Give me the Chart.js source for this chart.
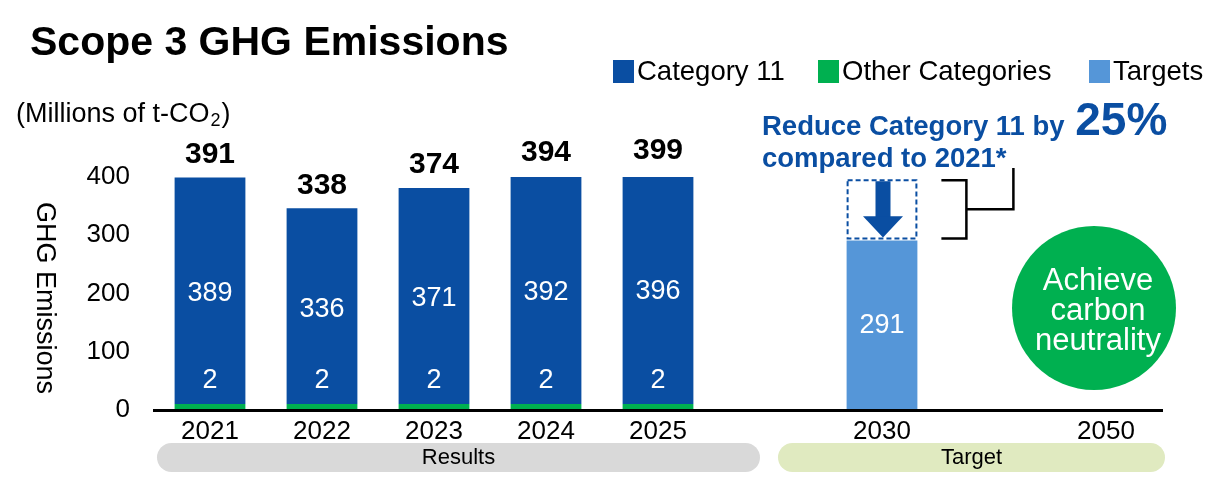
<!DOCTYPE html>
<html>
<head>
<meta charset="utf-8">
<script src="https://cdn.jsdelivr.net/npm/chart.js@4.4.0/dist/chart.umd.min.js"></script>
<style>
  html, body { margin: 0; padding: 0; background: #fff; }
  #wrap { width: 1220px; height: 490px; }
</style>
</head>
<body>
<div id="wrap"><canvas id="ghgChart"></canvas></div>
<script>
// data
const years = ["2021", "2022", "2023", "2024", "2025", "", "2030", "", "2050"];
const category11 = [389, 336, 371, 392, 396, null, null, null, null];
const otherCategories = [2, 2, 2, 2, 2, null, null, null, null];
const totals = [391, 338, 374, 394, 399, null, null, null, null];
const targets = [null, null, null, null, null, null, 291, null, null];
const yTicks = [0, 100, 200, 300, 400];

const DARK_BLUE = "#0a4ea2";
const GREEN = "#00b050";
const LIGHT_BLUE = "#5596d8";
const FONT = "'Liberation Sans', Arial, sans-serif";

function roundRect(ctx, x, y, w, h, r) {
  ctx.beginPath();
  ctx.moveTo(x + r, y);
  ctx.lineTo(x + w - r, y);
  ctx.arc(x + w - r, y + r, r, -Math.PI / 2, Math.PI / 2);
  ctx.lineTo(x + r, y + h);
  ctx.arc(x + r, y + r, r, Math.PI / 2, Math.PI * 1.5);
  ctx.closePath();
}

// everything that is not a bar: titles, legend, labels, notes
const decorations = {
  id: "decorations",
  afterDraw(chart) {
    const ctx = chart.ctx;
    const xs = chart.scales.x, ys = chart.scales.y;
    const area = chart.chartArea;
    const zeroY = ys.getPixelForValue(0);
    ctx.save();

    // title + unit
    ctx.fillStyle = "#000";
    ctx.textAlign = "left";
    ctx.textBaseline = "alphabetic";
    ctx.font = "bold 41px " + FONT;
    ctx.fillText("Scope 3 GHG Emissions", 30, 55);
    ctx.font = "27px " + FONT;
    let ux = 16;
    ctx.fillText("(Millions of t-CO", ux, 122);
    ux += ctx.measureText("(Millions of t-CO").width;
    ctx.font = "18px " + FONT;
    ctx.fillText("2", ux + 1, 126);
    ux += ctx.measureText("2").width + 2;
    ctx.font = "27px " + FONT;
    ctx.fillText(")", ux, 122);

    // legend
    const legendOrder = [1, 0, 2];
    const legendX = [613, 818, 1089];
    ctx.font = "27.5px " + FONT;
    ctx.textBaseline = "middle";
    legendOrder.forEach((d, k) => {
      const ds = chart.data.datasets[d];
      ctx.fillStyle = ds.backgroundColor;
      ctx.fillRect(legendX[k], 60, 21, 23);
      ctx.fillStyle = "#000";
      ctx.fillText(ds.label, legendX[k] + 24, 72);
    });

    // y axis title, reads top to bottom
    ctx.save();
    ctx.translate(44, 298);
    ctx.rotate(Math.PI / 2);
    ctx.textAlign = "center";
    ctx.font = "27px " + FONT;
    ctx.fillText("GHG Emissions", 0, 0);
    ctx.restore();

    // value labels on result bars
    const blueMeta = chart.getDatasetMeta(1);
    ctx.textAlign = "center";
    ctx.textBaseline = "middle";
    category11.forEach((v, i) => {
      if (v == null) return;
      const bar = blueMeta.data[i];
      ctx.fillStyle = "#fff";
      ctx.font = "27px " + FONT;
      ctx.fillText(String(v), bar.x, (bar.y + zeroY) / 2);
      ctx.fillText(String(otherCategories[i]), bar.x, zeroY - 29);
      ctx.fillStyle = "#000";
      ctx.font = "bold 30px " + FONT;
      ctx.fillText(String(totals[i]), bar.x, bar.y - 23);
    });

    // target bar, dashed box and arrow
    const tMeta = chart.getDatasetMeta(2);
    const ti = targets.findIndex(v => v != null);
    const tBar = tMeta.data[ti];
    ctx.fillStyle = "#fff";
    ctx.font = "27px " + FONT;
    ctx.fillText(String(targets[ti]), tBar.x, (tBar.y + zeroY) / 2);

    const bx0 = tBar.x - tBar.width / 2, bx1 = tBar.x + tBar.width / 2;
    const by0 = ys.getPixelForValue(totals[0]) - 2, by1 = tBar.y - 2;
    ctx.strokeStyle = DARK_BLUE;
    ctx.lineWidth = 2;
    ctx.setLineDash([5, 3]);
    ctx.strokeRect(bx0 + 1, by0, bx1 - bx0 - 2, by1 - by0);
    ctx.setLineDash([]);
    ctx.fillStyle = DARK_BLUE;
    const ax = tBar.x + 1;
    ctx.fillRect(ax - 7.5, by0 + 1, 15, 36);
    ctx.beginPath();
    ctx.moveTo(ax - 20, by0 + 36);
    ctx.lineTo(ax + 20, by0 + 36);
    ctx.lineTo(ax, by1 - 1);
    ctx.closePath();
    ctx.fill();

    // bracket
    const kx0 = bx1 + 24, kx1 = bx1 + 49, kx2 = bx1 + 96;
    const kmid = (by0 + by1) / 2;
    ctx.strokeStyle = "#000";
    ctx.lineWidth = 2.5;
    ctx.beginPath();
    ctx.moveTo(kx0, by0);
    ctx.lineTo(kx1, by0);
    ctx.lineTo(kx1, by1);
    ctx.lineTo(kx0, by1);
    ctx.moveTo(kx1, kmid);
    ctx.lineTo(kx2, kmid);
    ctx.lineTo(kx2, 168);
    ctx.stroke();

    // note text
    ctx.textAlign = "left";
    ctx.textBaseline = "alphabetic";
    ctx.fillStyle = DARK_BLUE;
    ctx.font = "bold 27.5px " + FONT;
    const line1 = "Reduce Category 11 by ";
    ctx.fillText(line1, 762, 135);
    const w1 = ctx.measureText(line1).width;
    ctx.font = "bold 46px " + FONT;
    ctx.fillText("25%", 765 + w1, 135);
    ctx.font = "bold 27.5px " + FONT;
    ctx.fillText("compared to 2021*", 762, 167);

    // 2050 circle
    const cx = xs.getPixelForValue(8) - 12, cy = 308;
    ctx.fillStyle = GREEN;
    ctx.beginPath();
    ctx.arc(cx, cy, 82, 0, Math.PI * 2);
    ctx.fill();
    ctx.fillStyle = "#fff";
    ctx.textAlign = "center";
    ctx.textBaseline = "middle";
    ctx.font = "31px " + FONT;
    ["Achieve", "carbon", "neutrality"].forEach((t, k) => {
      ctx.fillText(t, cx + 4, 281 + k * 30);
    });

    // group pills under the axis
    const split = xs.getPixelForValue(5);
    ctx.fillStyle = "#d9d9d9";
    roundRect(ctx, area.left + 3, 443, split - 10 - area.left - 3, 29, 14.5);
    ctx.fill();
    ctx.fillStyle = "#e0eac0";
    roundRect(ctx, split + 8, 443, area.right + 3 - split - 8, 29, 14.5);
    ctx.fill();
    ctx.fillStyle = "#000";
    ctx.font = "22px " + FONT;
    ctx.fillText("Results", (area.left + split - 7) / 2, 458);
    ctx.fillText("Target", (split + 8 + area.right + 3) / 2, 458);

    ctx.restore();
  }
};

new Chart(document.getElementById("ghgChart"), {
  type: "bar",
  data: {
    labels: years,
    datasets: [
      {
        label: "Other Categories",
        data: otherCategories,
        backgroundColor: GREEN,
        minBarLength: 6
      },
      {
        label: "Category 11",
        data: category11,
        backgroundColor: DARK_BLUE
      },
      {
        label: "Targets",
        data: targets,
        backgroundColor: LIGHT_BLUE
      }
    ]
  },
  options: {
    responsive: true,
    maintainAspectRatio: false,
    animation: false,
    events: [],
    layout: { padding: { left: 0, right: 58, top: 177, bottom: 0 } },
    datasets: { bar: { categoryPercentage: 0.632, barPercentage: 1, borderWidth: 0 } },
    plugins: { legend: { display: false }, title: { display: false }, tooltip: { enabled: false } },
    scales: {
      x: {
        stacked: true,
        grid: { display: false, drawTicks: false },
        border: { display: true, color: "#000", width: 3, z: 1 },
        ticks: { color: "#000", font: { family: FONT, size: 26 }, padding: 6, autoSkip: false, maxRotation: 0 },
        afterFit(scale) { scale.height = 80; }
      },
      y: {
        stacked: true,
        min: 0,
        max: 400,
        grid: { display: false, drawTicks: false },
        border: { display: false },
        ticks: { color: "#000", font: { family: FONT, size: 26 }, padding: 24 },
        afterBuildTicks(scale) { scale.ticks = yTicks.map(v => ({ value: v })); },
        afterFit(scale) { scale.width = 154; }
      }
    }
  },
  plugins: [decorations]
});
</script>
</body>
</html>
